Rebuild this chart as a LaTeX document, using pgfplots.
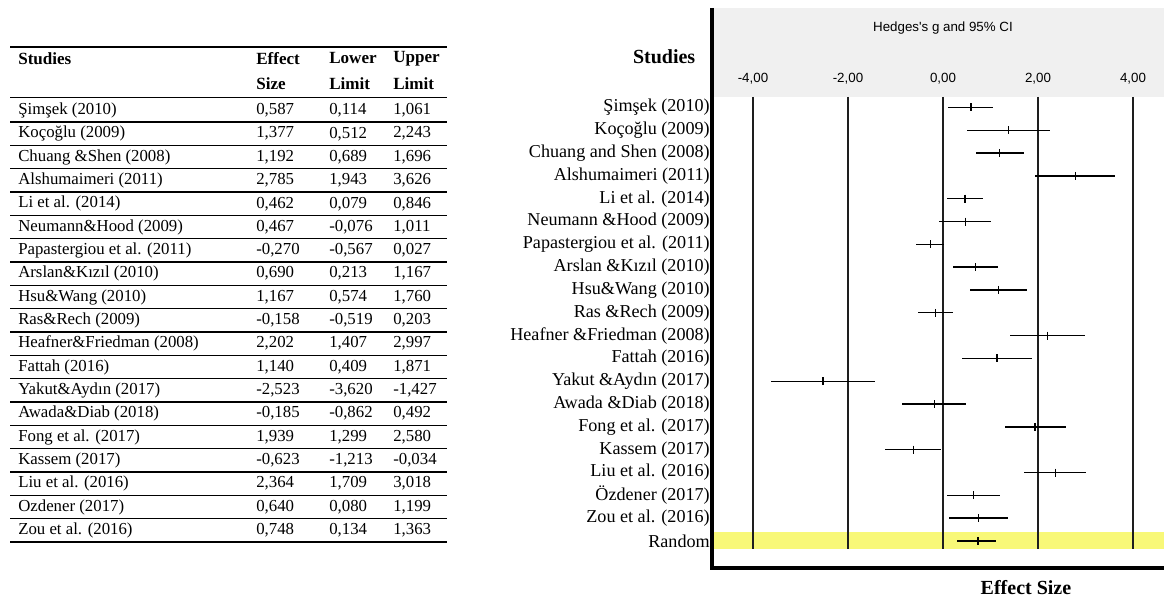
\documentclass[border=0pt]{standalone}
\usepackage{fontspec}
\setmainfont{Liberation Serif}
\newfontfamily\sansf{Liberation Sans}
\usepackage{pgfplots}
\usepackage{pgfplotstable}
\pgfplotsset{compat=1.18}

\pgfplotstableread[col sep=semicolon]{
idx;name;es;lo;hi
0;Şimşek (2010);0.587;0.114;1.061
1;Koçoğlu (2009);1.377;0.512;2.243
2;Chuang \&Shen (2008);1.192;0.689;1.696
3;Alshumaimeri (2011);2.785;1.943;3.626
4;Li et al. (2014);0.462;0.079;0.846
5;Neumann\&Hood (2009);0.467;-0.076;1.011
6;Papastergiou et al. (2011);-0.270;-0.567;0.027
7;Arslan\&Kızıl (2010);0.690;0.213;1.167
8;Hsu\&Wang (2010);1.167;0.574;1.760
9;Ras\&Rech (2009);-0.158;-0.519;0.203
10;Heafner\&Friedman (2008);2.202;1.407;2.997
11;Fattah (2016);1.140;0.409;1.871
12;Yakut\&Aydın (2017);-2.523;-3.620;-1.427
13;Awada\&Diab (2018);-0.185;-0.862;0.492
14;Fong et al. (2017);1.939;1.299;2.580
15;Kassem (2017);-0.623;-1.213;-0.034
16;Liu et al. (2016);2.364;1.709;3.018
17;Ozdener (2017);0.640;0.080;1.199
18;Zou et al. (2016);0.748;0.134;1.363
}\studies

\definecolor{bandgray}{RGB}{240,240,240}
\definecolor{bandyellow}{RGB}{248,248,120}
\definecolor{gridc}{RGB}{30,30,30}

\pgfplotsset{
  numcol/.style={only marks, mark=none, point meta=\thisrow{#1},
    nodes near coords={\pgfmathprintnumber[fixed,fixed zerofill,precision=3,use comma,assume math mode=true]{\pgfplotspointmeta}},
    every node near coord/.append style={anchor=west, inner sep=0pt, font=\fontsize{12.6}{14}\selectfont, black}},
}

\begin{document}
\begin{tikzpicture}
\useasboundingbox (0,0) rectangle (873pt,448.5pt);
% ---------------- table ----------------
\begin{axis}[
  at={(7.5pt,42pt)}, anchor=south west,
  scale only axis, width=327.75pt, height=370.95pt,
  xmin=10, xmax=447, ymin=-2.70, ymax=18.5, y dir=reverse,
  axis line style={draw=none}, xtick=\empty, ytick=\empty,
  clip=false,
]
\draw[black, line width=1.4pt] (axis cs:10,-2.70) -- (axis cs:447,-2.70);
\draw[black, line width=1.3pt] (axis cs:10,-0.557) -- (axis cs:447,-0.557);
\pgfplotsinvokeforeach{0.5,1.5,...,17.5}{
  \draw[black, line width=1.1pt] (axis cs:10,#1) -- (axis cs:447,#1);
}
\draw[black, line width=1.3pt] (axis cs:10,18.5) -- (axis cs:447,18.5);
\node[anchor=west, inner sep=0pt, font=\bfseries\fontsize{12.8}{14}\selectfont] at (axis cs:18,-2.229) {Studies};
\node[anchor=west, inner sep=0pt, font=\bfseries\fontsize{12.8}{14}\selectfont] at (axis cs:256,-2.229) {Effect};
\node[anchor=west, inner sep=0pt, font=\bfseries\fontsize{12.8}{14}\selectfont] at (axis cs:329,-2.229) {Lower};
\node[anchor=west, inner sep=0pt, font=\bfseries\fontsize{12.8}{14}\selectfont] at (axis cs:393,-2.229) {Upper};
\node[anchor=west, inner sep=0pt, font=\bfseries\fontsize{12.8}{14}\selectfont] at (axis cs:256,-1.157) {Size};
\node[anchor=west, inner sep=0pt, font=\bfseries\fontsize{12.8}{14}\selectfont] at (axis cs:329,-1.157) {Limit};
\node[anchor=west, inner sep=0pt, font=\bfseries\fontsize{12.8}{14}\selectfont] at (axis cs:393,-1.157) {Limit};
\addplot[only marks, mark=none, point meta=explicit symbolic, nodes near coords,
  every node near coord/.append style={anchor=west, inner sep=0pt, font=\fontsize{12.6}{14}\selectfont, black}]
  table[x expr=18, y=idx, meta=name]{\studies};
\addplot[numcol=es] table[x expr=256, y=idx]{\studies};
\addplot[numcol=lo] table[x expr=329, y=idx]{\studies};
\addplot[numcol=hi] table[x expr=393, y=idx]{\studies};
\end{axis}
% ---------------- forest plot ----------------
\begin{axis}[
  at={(534pt,22.5pt)}, anchor=south west,
  scale only axis, width=339pt, height=420pt,
  xmin=-4.863, xmax=4.653, ymin=-4.356, ymax=20.184, y dir=reverse,
  axis line style={draw=none}, clip=false,
  xtick=\empty,
  ytick={0,...,19},
  yticklabels={Şimşek (2010), Koçoğlu (2009), Chuang and Shen (2008), Alshumaimeri (2011), Li et al. (2014), Neumann \&Hood (2009), Papastergiou et al. (2011), Arslan \&Kızıl (2010), Hsu\&Wang (2010), Ras \&Rech (2009), Heafner \&Friedman (2008), Fattah (2016), Yakut \&Aydın (2017), Awada \&Diab (2018), Fong et al. (2017), Kassem (2017), Liu et al. (2016), Özdener (2017), Zou et al. (2016), Random},
  yticklabel style={font=\fontsize{13.6}{15}\selectfont, inner sep=0pt, anchor=east, xshift=-1.5pt},
  major tick length=0pt,
]
\fill[bandgray] (axis cs:-4.863,-4.356) rectangle (axis cs:4.653,-0.456);
\fill[bandyellow] (axis cs:-4.863,18.60) rectangle (axis cs:4.653,19.35);
\pgfplotsinvokeforeach{-4,-2,0,2,4}{
  \draw[gridc, line width=1pt] (axis cs:#1,-0.456) -- (axis cs:#1,19.35);
}
\node[font=\sansf\fontsize{10}{12}\selectfont] at (axis cs:0,-3.48) {Hedges's g and 95\% CI};
\node[font=\sansf\fontsize{10}{12}\selectfont] at (axis cs:-4,-1.24) {-4,00};
\node[font=\sansf\fontsize{10}{12}\selectfont] at (axis cs:-2,-1.24) {-2,00};
\node[font=\sansf\fontsize{10}{12}\selectfont] at (axis cs:0,-1.24) {0,00};
\node[font=\sansf\fontsize{10}{12}\selectfont] at (axis cs:2,-1.24) {2,00};
\node[font=\sansf\fontsize{10}{12}\selectfont] at (axis cs:4,-1.24) {4,00};
\node[anchor=east, font=\bfseries\fontsize{15}{18}\selectfont] at (axis cs:-5.116,-2.21) {Studies};
\node[font=\bfseries\fontsize{15}{18}\selectfont] at (axis cs:1.747,21.02) {Effect Size};
\addplot[black, only marks, mark=|, mark size=3pt, mark options={line width=1pt},
  error bars/.cd, x dir=both, x explicit, error mark=none, error bar style={line width=1pt, black}]
  table[x=es, y=idx, x error plus expr=\thisrow{hi}-\thisrow{es}, x error minus expr=\thisrow{es}-\thisrow{lo}]{\studies};
\addplot[black, only marks, mark=|, mark size=3pt, mark options={line width=1pt},
  error bars/.cd, x dir=both, x explicit, error mark=none, error bar style={line width=1pt, black}]
  coordinates {(0.737,19) += (0.383,0) -= (0.437,0)};
\draw[black, line width=2.3pt] (axis cs:-4.863,-4.356) -- (axis cs:-4.863,20.184) -- (axis cs:4.653,20.184);
\end{axis}
\end{tikzpicture}
\end{document}
